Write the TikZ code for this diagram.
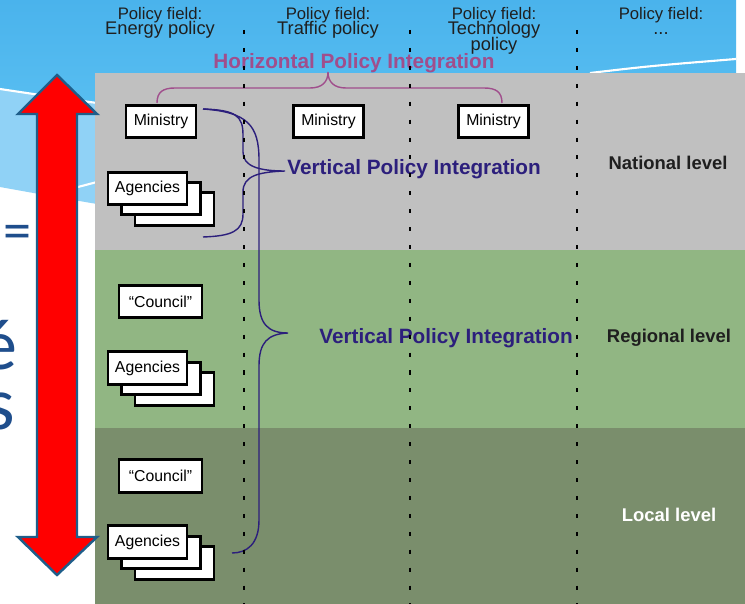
\documentclass[tikz,border=0pt]{standalone}
\usepackage{fontspec}
\setmainfont{Liberation Sans}
\newfontfamily\slidefont{Carlito}
\definecolor{skyblue}{HTML}{4AB3EC}
\definecolor{skyblueb}{HTML}{58BEF1}
\definecolor{paleblue}{HTML}{90D2F6}
\definecolor{natgray}{HTML}{C0C0C0}
\definecolor{reggreen}{HTML}{91B683}
\definecolor{locgreen}{HTML}{7A8E6C}
\definecolor{hpicol}{HTML}{A04E8C}
\definecolor{vpicol}{HTML}{2C1F7C}
\definecolor{arrowline}{HTML}{1F5E8A}
\definecolor{slideblue}{HTML}{1F4E8C}
\tikzset{
  unit/.style={draw=black, line width=1.5pt, fill=white, inner sep=0pt,
    minimum height=0.65cm, font=\fontsize{9}{10}\selectfont},
  ministry/.style={unit, minimum width=1.4cm},
  council/.style={unit, minimum width=1.66cm},
  agency/.style={unit, minimum width=1.58cm},
  fieldhead/.style={anchor=base, inner sep=0pt, text=black!88,
    font=\fontsize{9.5}{10}\selectfont},
  fieldname/.style={anchor=base, inner sep=0pt, text=black!88,
    font=\fontsize{10.4}{11}\selectfont},
  level/.style={font=\bfseries\fontsize{10.5}{12}\selectfont, text=black!88},
  integ/.style={font=\bfseries\fontsize{11.8}{13}\selectfont, inner sep=0pt},
  brace/.style={line width=0.8pt},
  sep/.style={line width=1.7pt, dash pattern=on 2.3pt off 7.9pt},
  fragment/.style={text=slideblue, inner sep=0pt},
}
\begin{document}
\begin{tikzpicture}[x=0.02cm, y=-0.02cm]
  \useasboundingbox (0,0) rectangle (745,604);
  \clip (0,0) rectangle (745,604);
  % slide background
  \fill[white] (0,0) rectangle (745,604);
  \shade[top color=skyblue, bottom color=skyblueb] (0,0) rectangle (736,110);
  \fill[paleblue] (0,89) .. controls (40,95) .. (97,103) -- (97,204)
    .. controls (50,196) .. (0,187) -- cycle;
  \draw[white, line width=1.2pt] (0,89) .. controls (40,95) .. (97,103);
  \draw[white, line width=1.2pt] (78,187) -- (97,182);
  \draw[white, line width=1.2pt] (590,73) .. controls (650,66) .. (736,59);
  \node[fragment, font=\slidefont\fontsize{32}{32}\selectfont,
    anchor=base west] (eqsign) at (3,250) {=};
  \node[fragment, font=\slidefont\fontsize{41}{41}\selectfont,
    anchor=base east] (eacute) at (18,370) {é};
  \node[fragment, font=\slidefont\fontsize{43}{43}\selectfont,
    anchor=base east] (sfrag) at (15,430) {s};

  % levels
  \fill[natgray] (95,73) rectangle (745,250);
  \fill[reggreen] (95,250) rectangle (745,428);
  \fill[locgreen] (95,428) rectangle (745,604);

  % double arrow
  \draw[arrowline, fill=red, line width=1.4pt, line join=miter]
    (57,75) -- (97,114) -- (77,114) -- (77,537) -- (97,537) -- (57,575)
    -- (18,537) -- (37,537) -- (37,114) -- (18,114) -- cycle;

  % policy fields
  \node[fieldhead] (f1) at (160,19.5) {Policy field:};
  \node[fieldname] (p1) at (160,35) {Energy policy};
  \node[fieldhead] (f2) at (328,19.5) {Policy field:};
  \node[fieldname] (p2) at (328,35) {Traffic policy};
  \node[fieldhead] (f3) at (494,19.5) {Policy field:};
  \node[fieldname] (p3) at (494,35) {Technology};
  \node[fieldname] (p3b) at (494,51) {policy};
  \node[fieldhead] (f4) at (661,19.5) {Policy field:};
  \node[fieldname] (p4) at (661,35) {...};

  % national
  \node[ministry] (min1) at (161,121.5) {Ministry};
  \node[ministry] (min2) at (328.5,121.5) {Ministry};
  \node[ministry] (min3) at (493.5,121.5) {Ministry};
  \node[agency] (agn3) at (174.5,209) {};
  \node[agency] (agn2) at (161,198.5) {};
  \node[agency] (agn1) at (147.5,188.5) {Agencies};
  % regional
  \node[council] (cnr) at (160.5,301.5) {``Council''};
  \node[agency] (agr3) at (174.5,389) {};
  \node[agency] (agr2) at (161,378.5) {};
  \node[agency] (agr1) at (147.5,368) {Agencies};
  % local
  \node[council] (cnl) at (160.5,476) {``Council''};
  \node[agency] (agl3) at (174.5,563) {};
  \node[agency] (agl2) at (161,552.5) {};
  \node[agency] (agl1) at (147.5,542) {Agencies};

  \node[level] (nat) at (668,163) {National level};
  \node[level] (reg) at (669,338) {Regional level};
  \node[level, text=white] (loc) at (669,515) {Local level};

  % integration braces
  \node[integ, text=hpicol] (hpi) at (354,63) {Horizontal Policy Integration};
  \draw[brace, hpicol] (157,103) .. controls (157,92) and (163,88) .. (175,88)
    -- (310,88) .. controls (322,88) and (328,82) .. (328,72)
    .. controls (328,82) and (334,88) .. (346,88) -- (484,88)
    .. controls (496,88) and (502,92) .. (502,103);
  \node[integ, text=vpicol, anchor=west] (vpi1) at (287,169) {Vertical Policy Integration};
  \node[integ, text=vpicol, anchor=west] (vpi2) at (319,338) {Vertical Policy Integration};
  \draw[brace, vpicol] (203,109) .. controls (236,110) and (243,116) .. (243,135)
    -- (243,152) .. controls (243,166) and (258,171) .. (285,171)
    .. controls (258,172) and (243,176) .. (243,192) -- (243,214)
    .. controls (243,231) and (232,236) .. (203,237);
  \draw[brace, vpicol] (203,109) .. controls (248,112) and (259,126) .. (259,160)
    -- (259,300) .. controls (259,324) and (268,333) .. (288,333)
    .. controls (268,334) and (259,342) .. (259,366) -- (259,520)
    .. controls (259,544) and (247,553) .. (232,553);

  % field separators
  \foreach \x in {244,410,577}
    \draw[sep] (\x,30) -- (\x,604);
\end{tikzpicture}
\end{document}
